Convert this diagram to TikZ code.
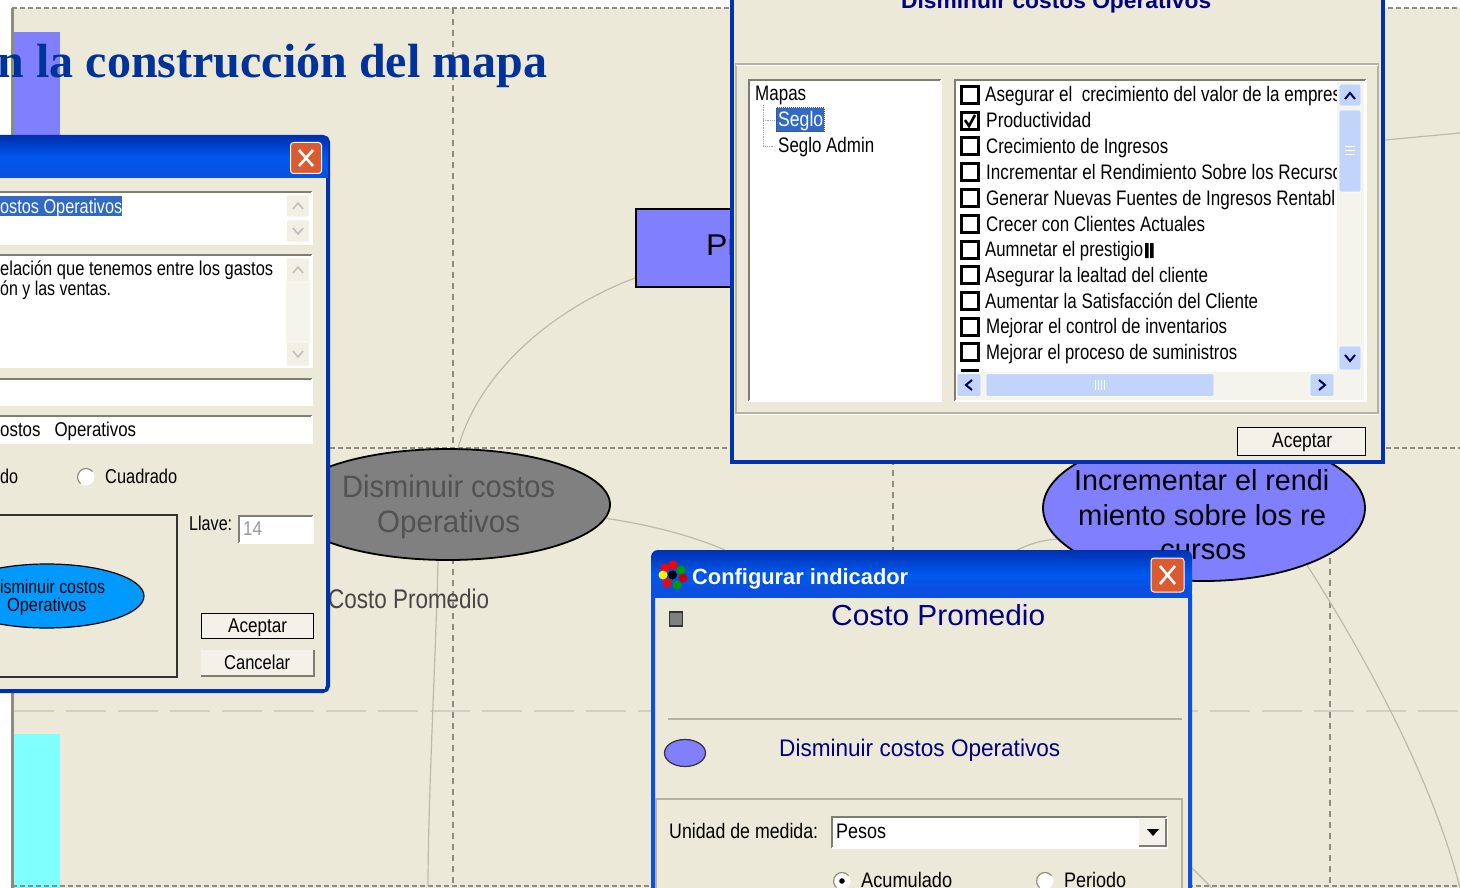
\documentclass[tikz,border=0pt]{standalone}
\usepackage{fontspec}
\usepackage{graphicx}
\usetikzlibrary{shapes.geometric}
\newfontfamily\uifam{Liberation Sans}
\newfontfamily\serifam{Liberation Serif}
\newcommand\ui[1]{\fontsize{#1}{#1}\selectfont\uifam}
\newcommand\fit[2]{\resizebox{#1pt}{\height}{#2}}
\definecolor{bg}{HTML}{ECE9D8}
\definecolor{xpblue}{HTML}{0A4FE0}
\definecolor{xpmid}{HTML}{0058EE}
\definecolor{xpedge}{HTML}{0031B0}
\definecolor{navy}{HTML}{000080}
\definecolor{periw}{HTML}{8080FF}
\definecolor{aqua}{HTML}{80FFFF}
\definecolor{sel}{HTML}{316AC5}
\definecolor{dashc}{HTML}{8E8C80}
\definecolor{linkc}{HTML}{BDBAA8}
\definecolor{etch}{HTML}{B5B29E}
\definecolor{sbbtn}{HTML}{C3D4FB}
\definecolor{sbtrack}{HTML}{F4F3EC}
\definecolor{closec}{HTML}{DC5A30}
\tikzset{
  txt/.style={inner sep=0pt,anchor=base west,text=black},
  griddash/.style={draw=dashc,line width=1.3pt,dash pattern=on 6pt off 5pt},
  griddashh/.style={draw=dashc,line width=1.8pt,dash pattern=on 5pt off 3pt},
  longdash/.style={draw=linkc!70,line width=2pt,dash pattern=on 40pt off 12pt},
  linkline/.style={draw=linkc,line width=1.2pt},
  field/.style={fill=white,draw=none},
  chk/.style={draw=black,line width=3pt,fill=white},
  sbb/.style={fill=sbbtn,draw=white,line width=.6pt,rounded corners=2pt},
  sbg/.style={fill=bg!70!white,draw=white,line width=.6pt,rounded corners=2pt},
  closebtn/.style={draw=white,line width=1pt,rounded corners=3pt,fill=closec},
  window/.style={fill=bg,draw=xpedge,line width=4pt},
}
\newcommand\sunken[4]{%
  \fill[white] (#1,#2) rectangle (#3,#4);
  \draw[color=etch!70!black,line width=1.6pt] (#1,#4) -- (#1,#2) -- (#3,#2);
  \draw[color=white,line width=1.2pt] (#3,#2) -- (#3,#4) -- (#1,#4);}
\newcommand\pbtn[4]{%
  \fill[bg!60!white] (#1,#2) rectangle (#3,#4);
  \draw[color=etch!70!black,line width=1.4pt] (#1,#4) -- (#3,#4) -- (#3,#2);}
\newcommand\radiob[2]{%
  \fill[white] (#1,#2) circle (8.5pt);
  \draw[color=etch!80!black,line width=1.2pt] (#1,#2) ++(40:8.5pt) arc (40:230:8.5pt);}
\begin{document}
\begin{tikzpicture}[x=1pt,y=-1pt]
\useasboundingbox (0,0) rectangle (1460,888);
\fill[white] (0,0) rectangle (1460,888);
\fill[bg] (12,8) rectangle (1460,888);
% colour bands
\fill[periw] (14,32) rectangle (60,140);
\fill[aqua] (14,734) rectangle (60,888);
% frame
\draw[color=dashc,line width=3pt] (12,8) -- (12,888);
\draw[griddashh] (12,8) -- (1460,8);
\draw[griddashh] (12,886) -- (1460,886);
% grid
\draw[griddash] (453,8) -- (453,886);
\draw[griddash] (893,448) -- (893,886);
\draw[griddash] (1330,448) -- (1330,886);
\draw[griddashh] (330,448) -- (1460,448);
\draw[longdash] (14,711) -- (1460,711);
% map nodes
\node[rectangle,draw=black,line width=2pt,fill=periw,minimum width=180pt,minimum height=78pt,anchor=north west,inner sep=0pt] (prbox) at (635,208) {};
\node[ellipse,draw=black,line width=1.8pt,fill=black!50,minimum width=324pt,minimum height=111pt,inner sep=0pt] (dis) at (448,504.5) {};
\node[ellipse,draw=black,line width=1.8pt,fill=periw,minimum width=322pt,minimum height=146pt,inner sep=0pt] (inc) at (1204,508) {};
\coordinate (p1) at (428,886);
\coordinate (p2) at (1460,888);
\coordinate (p3) at (1385,140);
\coordinate (p4) at (1460,133);
\coordinate (p5) at (725,550);
\coordinate (p6) at (1000,560);
\coordinate (p7) at (1192,868);
\coordinate (p8) at (1212,888);
% connectors
\draw[linkline] (prbox.south west) ++(0,-10) coordinate (prl) (prl) .. controls (555,308) and (480,370) .. (dis.80);
\draw[linkline] (dis.south) ++(-10,0) coordinate (dsb) (dsb) .. controls (436,650) and (428,800) .. (p1);
\draw[linkline] (dis.-5) .. controls (650,525) and (690,535) .. (p5);
\draw[linkline] (inc.-168) .. controls (1035,540) and (1015,550) .. (p6);
\draw[linkline] (inc.-29) .. controls (1355,640) and (1430,770) .. (p2);
\draw[linkline] (p3) -- (p4);
\draw[linkline] (p7) -- (p8);
% map texts
\node[txt,font=\ui{30}] (tpr) at (706,255) {\fit{32}{Pr}};
\node[txt,font=\ui{31},text=black!68] (td1) at (342,497) {\fit{213}{Disminuir costos}};
\node[txt,font=\ui{31},text=black!68] (td2) at (377,532) {\fit{143}{Operativos}};
\node[txt,font=\ui{27},text=black!72] (tcp) at (328,608) {\fit{161}{Costo Promedio}};
\node[txt,font=\ui{29}] (ti1) at (1074,490) {\fit{255}{Incrementar el rendi}};
\node[txt,font=\ui{29}] (ti2) at (1078,525) {\fit{248}{miento sobre los re}};
\node[txt,font=\ui{29}] (ti3) at (1160,559) {\fit{86}{cursos}};
% title
\node[inner sep=0pt,anchor=base east,text={rgb,255:red,0;green,51;blue,153},font=\fontsize{48}{48}\selectfont\serifam\bfseries] (title) at (547.5,78) {n la construcción del mapa};

% ===== left dialog =====
\path[window,rounded corners=5pt] (-10,137) -- (328,137) -- (328,691) -- (-10,691) -- cycle;
\fill[bg] (-10,179) rectangle (325,689);
\shade[top color=xpedge,bottom color=xpblue,middle color=xpmid] (-10,137) [rounded corners=5pt] -- (328,137) [sharp corners] -- (328,178) -- (-10,178) -- cycle;
\node[closebtn,minimum width=31pt,minimum height=31pt,inner sep=0pt] (cl1) at (306,158) {};
\draw[white,line width=2.6pt] (299,150) -- (313,166) (313,150) -- (299,166);
\sunken{-5}{192}{312}{244}
\fill[sel] (-5,196) rectangle (122,216);
\node[sbg,minimum width=23pt,minimum height=22pt,inner sep=0pt] (lu1) at (298,206) {};
\node[sbg,minimum width=23pt,minimum height=22pt,inner sep=0pt] (ld1) at (298,231) {};
\draw[color=black!25,line width=1.6pt] (293,209) -- (298,203) -- (303,209);
\draw[color=black!25,line width=1.6pt] (293,228) -- (298,234) -- (303,228);
\sunken{-5}{255}{312}{367}
\fill[sbtrack] (286,258) rectangle (310,365);
\node[sbg,minimum width=23pt,minimum height=24pt,inner sep=0pt] (lu2) at (298,270) {};
\node[sbg,minimum width=23pt,minimum height=24pt,inner sep=0pt] (ld2) at (298,354) {};
\draw[color=black!25,line width=1.6pt] (293,273) -- (298,267) -- (303,273);
\draw[color=black!25,line width=1.6pt] (293,351) -- (298,357) -- (303,351);
\sunken{-5}{379}{312}{405}
\sunken{-5}{416}{312}{443}
\draw[color=black!80,line width=1.2pt] (-5,515) -- (177,515) -- (177,677) -- (-5,677);
\node[ellipse,draw=black,line width=1.2pt,fill={rgb,255:red,0;green,153;blue,255},minimum width=194pt,minimum height=64pt,inner sep=0pt] (mini) at (47,596) {};
\sunken{239}{516}{313}{543}
\pbtn{201}{650}{314}{676}
\node[rectangle,draw=black,line width=1.6pt,fill=bg!60!white,minimum width=112pt,minimum height=25pt,inner sep=0pt] (acl) at (257.5,626) {};
\radiob{86}{477}
\node[txt,font=\ui{20},text=white] (t1) at (0,213) {\fit{122}{ostos Operativos}};
\node[txt,font=\ui{20}] (t2) at (0,275) {\fit{273}{elación que tenemos entre los gastos}};
\node[txt,font=\ui{20}] (t3) at (0,295) {\fit{111}{ón y las ventas.}};
\node[txt,font=\ui{20}] (t4) at (0,436) {\fit{136}{ostos\ \ \ Operativos}};
\node[txt,font=\ui{20}] (t5) at (0,483) {\fit{18}{do}};
\node[txt,font=\ui{20}] (t6) at (105,483) {\fit{72}{Cuadrado}};
\node[txt,font=\ui{20}] (t7) at (189,530) {\fit{43}{Llave:}};
\node[txt,font=\ui{20},text=black!40] (t8) at (243,535) {\fit{19}{14}};
\node[txt,font=\ui{20}] (t9) at (228,632) {\fit{59}{Aceptar}};
\node[txt,font=\ui{20}] (t10) at (224,669) {\fit{66}{Cancelar}};
\node[txt,font=\ui{19}] (t11) at (0,593) {\fit{105}{isminuir costos}};
\node[txt,font=\ui{19}] (t12) at (7,611) {\fit{79}{Operativos}};

% ===== top dialog =====
\path[window] (732,-10) rectangle (1383,462);
\node[txt,font=\ui{22}\bfseries,text=navy] (t20) at (901,9) {\fit{310}{Disminuir costos Operativos}};
\draw[color=etch,line width=1.2pt] (736,64) rectangle (1378,413);
\draw[color=white,line width=.8pt] (736,65.5) -- (1378,65.5) (736,414.5) -- (1378,414.5);
\sunken{749}{80}{941}{401}
\sunken{955}{80}{1366}{401}
\fill[sel] (776,108) rectangle (824,132);
\draw[color=black!70,densely dotted,line width=1pt] (776,108) rectangle (824,132);
\draw[color=black!35,densely dotted,line width=.8pt] (763,105) -- (763,146) -- (774,146) (763,120) -- (774,120);
\node[txt,font=\ui{21}] (m1) at (755,101) {\fit{51}{Mapas}};
\node[txt,font=\ui{21},text=white] (m2) at (778,127) {\fit{45}{Seglo}};
\node[txt,font=\ui{21}] (m3) at (778,153) {\fit{96}{Seglo Admin}};
% list rows
\foreach \nm/\yy in {c1/95,c2/120.7,c3/146.4,c4/172,c5/198,c6/224,c7/249.5,c8/275,c9/301,c10/326.5,c11/352.3}{
  \node[chk,minimum size=17pt,inner sep=0pt] (\nm) at (970,\yy) {};
}
\draw[black,line width=2.6pt] (965,120) -- (969,126) -- (975,115);
\fill[black] (961,369) rectangle (979,372);
\node[txt,font=\ui{21}] (r1) at (985,102) {\fit{356}{Asegurar el\ \ crecimiento del valor de la empres}};
\node[txt,font=\ui{21}] (r2) at (986,128) {\fit{105}{Productividad}};
\node[txt,font=\ui{21}] (r3) at (986,153.5) {\fit{182}{Crecimiento de Ingresos}};
\node[txt,font=\ui{21}] (r4) at (986,179) {\fit{356}{Incrementar el Rendimiento Sobre los Recurso}};
\node[txt,font=\ui{21}] (r5) at (986,205) {\fit{349}{Generar Nuevas Fuentes de Ingresos Rentabl}};
\node[txt,font=\ui{21}] (r6) at (986,231) {\fit{219}{Crecer con Clientes Actuales}};
\node[txt,font=\ui{21}] (r7) at (985,256.5) {\fit{158}{Aumnetar el prestigio}};
\fill[black] (1145,243) rectangle (1148.5,258) (1150,243) rectangle (1153.5,258);
\node[txt,font=\ui{21}] (r8) at (985,282) {\fit{223}{Asegurar la lealtad del cliente}};
\node[txt,font=\ui{21}] (r9) at (985,308) {\fit{273}{Aumentar la Satisfacción del Cliente}};
\node[txt,font=\ui{21}] (r10) at (986,333.5) {\fit{241}{Mejorar el control de inventarios}};
\node[txt,font=\ui{21}] (r11) at (986,359) {\fit{251}{Mejorar el proceso de suministros}};
% scrollbars
\fill[sbtrack] (1337,82) rectangle (1364,372);
\fill[sbtrack] (957,372) rectangle (1364,400);
\node[sbb,minimum width=22pt,minimum height=22pt,inner sep=0pt] (su) at (1350,95) {};
\node[sbb,minimum width=22pt,minimum height=82pt,inner sep=0pt] (st) at (1350,151) {};
\node[sbb,minimum width=22pt,minimum height=24pt,inner sep=0pt] (sd) at (1350,358) {};
\node[sbb,minimum width=24pt,minimum height=23pt,inner sep=0pt] (sl) at (969,385) {};
\node[sbb,minimum width=228pt,minimum height=23pt,inner sep=0pt] (sh) at (1100,385) {};
\node[sbb,minimum width=24pt,minimum height=23pt,inner sep=0pt] (sr) at (1322,385) {};
\draw[color=navy!70!black,line width=2pt] (1345,99) -- (1350,93) -- (1355,99);
\draw[color=navy!70!black,line width=2pt] (1345,355) -- (1350,361) -- (1355,355);
\draw[color=navy!70!black,line width=2pt] (972,380) -- (966,385) -- (972,390);
\draw[color=navy!70!black,line width=2pt] (1319,380) -- (1325,385) -- (1319,390);
\draw[color=white,line width=.7pt] (1345,146) -- (1355,146) (1345,150) -- (1355,150) (1345,154) -- (1355,154);
\draw[color=white,line width=.7pt] (1095,380) -- (1095,390) (1098,380) -- (1098,390) (1101,380) -- (1101,390) (1104,380) -- (1104,390);
\node[rectangle,draw=black,line width=1.8pt,fill=bg!60!white,minimum width=128pt,minimum height=28pt,inner sep=0pt] (act) at (1301.5,441.5) {};
\node[txt,font=\ui{21}] (t21) at (1272,447) {\fit{60}{Aceptar}};

% ===== bottom dialog =====
\path[window] (653,560) -- (653,895) -- (1190,895) -- (1190,560) -- cycle;
\shade[top color=xpedge,bottom color=xpblue,middle color=xpmid,rounded corners=7pt] (651,598) -- (651,550) -- (1192,550) -- (1192,598) [sharp corners] -- cycle;
\fill[xpblue] (651,585) rectangle (1192,598);
\fill[bg] (655,598) rectangle (1188,888);
\fill[xpblue] (651,595) rectangle (655,888) (1188,595) rectangle (1192,888);
% icon
\foreach \cc/\ix/\iy in {red/665/568,red/673/565,green!60!black/681/570,yellow/663/575,red!80!black/683/578,red/667/583,green!60!black/677/585,black/672.5/575}{
  \fill[color=\cc] (\ix,\iy) circle (4.5pt);
}
\node[closebtn,minimum width=33pt,minimum height=34pt,inner sep=0pt] (cl2) at (1167.5,575) {};
\draw[white,line width=2.6pt] (1160,566) -- (1175,584) (1175,566) -- (1160,584);
\node[rectangle,draw=black!80,line width=1.4pt,fill=black!50,minimum width=13pt,minimum height=14pt,inner sep=0pt] (sq) at (676,619) {};
\node[ellipse,draw=black!80,line width=1.2pt,fill=periw,minimum width=41pt,minimum height=27pt,inner sep=0pt] (oval) at (685,753) {};
\draw[color=etch,line width=1.2pt] (668,719) -- (1182,719);
\draw[color=etch,line width=1.2pt] (656,888) -- (656,799) -- (1182,799) -- (1182,888);
\sunken{832}{817}{1167}{848}
\pbtn{1139}{819}{1166}{846}
\fill[black] (1147,829) -- (1159,829) -- (1153,836) -- cycle;
\radiob{842}{881}
\fill[black] (842,881) circle (2.8pt);
\radiob{1045}{881}
\node[txt,font=\ui{22}\bfseries,text=white] (b1) at (692,584) {\fit{216}{Configurar indicador}};
\node[txt,font=\ui{29},text=navy] (b2) at (831,625) {\fit{214}{Costo Promedio}};
\node[txt,font=\ui{24},text=navy] (b3) at (779,756) {\fit{281}{Disminuir costos Operativos}};
\node[txt,font=\ui{21}] (b4) at (669,838) {\fit{149}{Unidad de medida:}};
\node[txt,font=\ui{21}] (b5) at (836,838) {\fit{50}{Pesos}};
\node[txt,font=\ui{21}] (b6) at (861,887) {\fit{91}{Acumulado}};
\node[txt,font=\ui{21}] (b7) at (1064,887) {\fit{62}{Periodo}};
\end{tikzpicture}
\end{document}
